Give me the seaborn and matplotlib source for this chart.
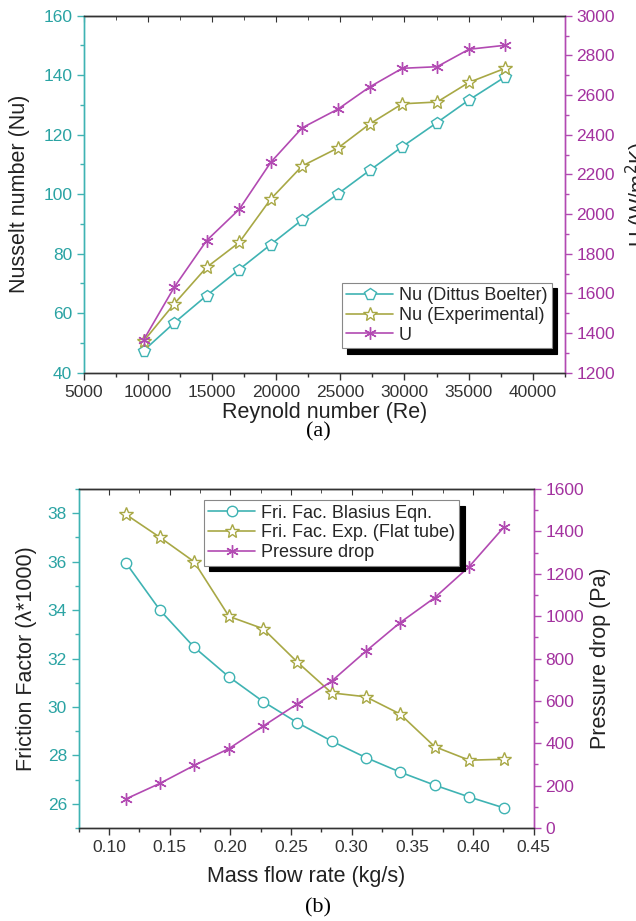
import matplotlib
matplotlib.use("Agg")
import matplotlib.pyplot as plt
from matplotlib.ticker import MultipleLocator, FormatStrFormatter
import pandas as pd
import seaborn as sns

# ---- (a) heat transfer data ----
reynolds = [9650, 12050, 14560, 17110, 19570, 22020, 24830, 27310, 29830, 32540, 35030, 37830]
nu_dittus = [47.4, 56.8, 65.9, 74.7, 83.1, 91.4, 100.2, 108.1, 116.0, 124.1, 131.7, 139.4]
nu_exp = [50.6, 63.2, 75.4, 83.8, 98.4, 109.5, 115.6, 123.7, 130.4, 131.0, 137.6, 142.3]
u_coef = [1365, 1632, 1866, 2024, 2261, 2435, 2530, 2642, 2735, 2743, 2831, 2851]

# ---- (b) friction / pressure data ----
mass_flow = [0.1138, 0.1420, 0.1700, 0.1988, 0.2270, 0.2552, 0.2834, 0.3116, 0.3398, 0.3684, 0.3969, 0.4255]
fric_blasius = [35.95, 33.99, 32.47, 31.24, 30.22, 29.35, 28.59, 27.91, 27.31, 26.77, 26.28, 25.83]
fric_exp = [37.95, 37.00, 36.00, 33.74, 33.23, 31.85, 30.58, 30.42, 29.71, 28.36, 27.80, 27.84]
pressure_drop = [137, 211, 295, 375, 481, 586, 693, 834, 969, 1087, 1234, 1420]

sns.set_style("ticks")
plt.rcParams["font.family"] = ["Liberation Sans", "DejaVu Sans"]

TEAL = "#3fb3b3"
TEAL_TXT = "#2aa3a3"
OLIVE = "#a8a845"
MAGENTA = "#b24ab2"
MAG_TXT = "#a3329f"
DARK = "#333333"
LABEL = "#222222"
TICK_FS = 12.5
LABEL_FS = 15.5

ASTERISK = (6, 2, 0)

df_a = pd.DataFrame({"Re": reynolds, "Nu_DB": nu_dittus, "Nu_Exp": nu_exp, "U": u_coef})
df_b = pd.DataFrame({"m": mass_flow, "f_bl": fric_blasius, "f_exp": fric_exp, "dp": pressure_drop})

fig = plt.figure(figsize=(6.36, 9.21), dpi=100)


def style_axes(ax, ax2, xmaj, xmin, ymaj, ymin, y2maj, y2min):
    for a in (ax, ax2):
        for s in a.spines.values():
            s.set_linewidth(1.0)
            s.set_color(DARK)
        a.spines["left"].set_color(TEAL)
        a.spines["right"].set_color(MAGENTA)
    ax.xaxis.set_major_locator(MultipleLocator(xmaj))
    ax.xaxis.set_minor_locator(MultipleLocator(xmin))
    ax.yaxis.set_major_locator(MultipleLocator(ymaj))
    ax.yaxis.set_minor_locator(MultipleLocator(ymin))
    ax2.yaxis.set_major_locator(MultipleLocator(y2maj))
    ax2.yaxis.set_minor_locator(MultipleLocator(y2min))
    ax.tick_params(axis="x", which="both", direction="out", colors=DARK, labelsize=TICK_FS)
    ax.tick_params(axis="x", which="major", length=5, width=1)
    ax.tick_params(axis="x", which="minor", length=3, width=1)
    ax.tick_params(axis="y", which="both", direction="out", color=TEAL, labelcolor=TEAL_TXT, labelsize=TICK_FS)
    ax.tick_params(axis="y", which="major", length=5, width=1)
    ax.tick_params(axis="y", which="minor", length=3, width=1)
    ax2.tick_params(axis="y", which="both", direction="out", color=MAGENTA, labelcolor=MAG_TXT, labelsize=TICK_FS)
    ax2.tick_params(axis="y", which="major", length=5, width=1)
    ax2.tick_params(axis="y", which="minor", length=3, width=1)
    top = ax.secondary_xaxis("top")
    top.xaxis.set_major_locator(MultipleLocator(xmaj))
    top.xaxis.set_minor_locator(MultipleLocator(xmin))
    top.tick_params(which="both", direction="in", labeltop=False, color=DARK)
    top.tick_params(which="major", length=4)
    top.tick_params(which="minor", length=3)
    top.spines["top"].set_color(DARK)


def add_legend(ax, handles, labels, **kw):
    leg = ax.legend(handles, labels, frameon=True, fancybox=False, fontsize=13,
                    handlelength=2.6, handletextpad=0.3, borderpad=0.25,
                    labelspacing=0.15, borderaxespad=0.0, framealpha=1,
                    edgecolor="#888888",
                    shadow={"color": "black", "alpha": 1, "ox": 4, "oy": -4},
                    **kw)
    leg.get_frame().set_linewidth(0.8)
    leg.set_zorder(10)
    return leg


# ================= (a) =================
ax1 = fig.add_axes([0.132, 0.5953, 0.756, 0.3876])
ax1b = ax1.twinx()

sns.lineplot(data=df_a, x="Re", y="Nu_DB", ax=ax1, color=TEAL, lw=1.2,
             marker="p", markersize=8.5, markerfacecolor="white", markeredgecolor=TEAL,
             markeredgewidth=1.0, label="Nu (Dittus Boelter)", legend=False)
sns.lineplot(data=df_a, x="Re", y="Nu_Exp", ax=ax1, color=OLIVE, lw=1.2,
             marker="*", markersize=10.5, markerfacecolor="white", markeredgecolor=OLIVE,
             markeredgewidth=1.0, label="Nu (Experimental)", legend=False)
sns.lineplot(data=df_a, x="Re", y="U", ax=ax1b, color=MAGENTA, lw=1.2,
             marker=ASTERISK, markersize=9, markeredgecolor=MAGENTA,
             markeredgewidth=1.0, label="U", legend=False)

ax1.set_xlim(5000, 42500)
ax1.set_ylim(40, 160)
ax1b.set_ylim(1200, 3000)
style_axes(ax1, ax1b, 5000, 2500, 20, 10, 200, 100)
ax1.set_xlabel("Reynold number (Re)", fontsize=LABEL_FS, color=LABEL)
ax1.set_ylabel("Nusselt number (Nu)", fontsize=LABEL_FS, color=LABEL)
ax1b.set_ylabel("U (W/m$^2$K)", fontsize=LABEL_FS, color=LABEL)
ax1.xaxis.set_label_coords(0.5, -0.082)
ax1.yaxis.set_label_coords(-0.113, 0.5)
ax1b.yaxis.set_label_coords(1.123, 0.5)

h1, l1 = ax1.get_legend_handles_labels()
h2, l2 = ax1b.get_legend_handles_labels()
add_legend(ax1b, h1 + h2, l1 + l2, loc="lower right", bbox_to_anchor=(0.973, 0.069))

# ================= (b) =================
ax2 = fig.add_axes([0.124, 0.101, 0.715, 0.368])
ax2b = ax2.twinx()

sns.lineplot(data=df_b, x="m", y="f_bl", ax=ax2, color=TEAL, lw=1.2,
             marker="o", markersize=7.5, markerfacecolor="white", markeredgecolor=TEAL,
             markeredgewidth=1.0, label="Fri. Fac. Blasius Eqn.", legend=False)
sns.lineplot(data=df_b, x="m", y="f_exp", ax=ax2, color=OLIVE, lw=1.2,
             marker="*", markersize=10.5, markerfacecolor="white", markeredgecolor=OLIVE,
             markeredgewidth=1.0, label="Fri. Fac. Exp. (Flat tube)", legend=False)
sns.lineplot(data=df_b, x="m", y="dp", ax=ax2b, color=MAGENTA, lw=1.2,
             marker=ASTERISK, markersize=9, markeredgecolor=MAGENTA,
             markeredgewidth=1.0, label="Pressure drop", legend=False)

ax2.set_xlim(0.075, 0.45)
ax2.set_ylim(25, 39)
ax2b.set_ylim(0, 1600)
style_axes(ax2, ax2b, 0.05, 0.025, 2, 1, 200, 100)
ax2.xaxis.set_major_formatter(FormatStrFormatter("%.2f"))
ax2.set_xlabel("Mass flow rate (kg/s)", fontsize=LABEL_FS, color=LABEL)
ax2.set_ylabel("Friction Factor (\u03bb*1000)", fontsize=LABEL_FS, color=LABEL)
ax2b.set_ylabel("Pressure drop (Pa)", fontsize=LABEL_FS, color=LABEL)
ax2.xaxis.set_label_coords(0.5, -0.112)
ax2.yaxis.set_label_coords(-0.093, 0.5)
ax2b.yaxis.set_label_coords(1.123, 0.5)

h1, l1 = ax2.get_legend_handles_labels()
h2, l2 = ax2b.get_legend_handles_labels()
add_legend(ax2b, h1 + h2, l1 + l2, loc="upper left", bbox_to_anchor=(0.275, 0.967))

# panel captions
fig.text(0.5, 1 - 432 / 921, "(a)", ha="center", va="center", fontsize=16,
         family=["Liberation Serif", "DejaVu Serif"], color="black")
fig.text(0.5, 1 - 908 / 921, "(b)", ha="center", va="center", fontsize=16,
         family=["Liberation Serif", "DejaVu Serif"], color="black")

fig.savefig("out.png", dpi=100)
